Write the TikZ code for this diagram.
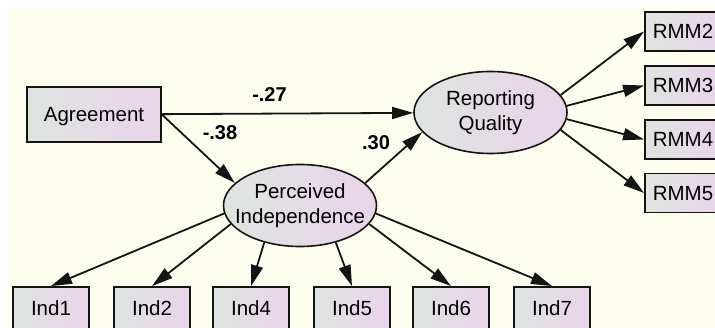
\documentclass[tikz,border=0pt]{standalone}
\usepackage{fontspec}
\setmainfont{Liberation Sans}
\usetikzlibrary{arrows.meta,shapes.geometric}
\definecolor{bg}{RGB}{253,254,238}
\definecolor{boxL}{RGB}{222,228,224}
\definecolor{boxR}{RGB}{234,212,234}
\definecolor{edge}{RGB}{20,20,20}
\tikzset{
 obs/.style={draw=edge, line width=1.8pt, left color=boxL, right color=boxR,
   minimum width=76pt, minimum height=39pt, inner sep=0pt,
   text height=14.3pt, text depth=0pt, font=\fontsize{20.5}{24}\selectfont},
 lat/.style={ellipse, draw=edge, line width=1.6pt, left color=boxL, right color=boxR,
   minimum width=153pt, minimum height=82pt, inner xsep=-11pt, inner ysep=0pt, align=center,
   font=\fontsize{20.5}{24.5}\selectfont},
 arr/.style={draw=edge, line width=1.8pt, -{Triangle[length=21pt,width=12pt]}},
 coef/.style={font=\bfseries\fontsize{20}{24}\selectfont, inner sep=0pt}
}
\begin{document}
\begin{tikzpicture}[x=1pt,y=-1pt]
\useasboundingbox (0,0) rectangle (715,328);
\clip (0,0) rectangle (715,328);
\fill[white] (0,0) rectangle (715,328);
\fill[bg] (7,7) rectangle (715,328);
\node[obs, minimum width=134pt, minimum height=55pt] (A) at (94,114.5) {Agreement};
\node[lat] (RQ) at (490.5,112.5) {Reporting\\Quality};
\node[lat] (PI) at (300,205.5) {Perceived\\Independence};
\foreach \n/\y in {2/31.5,3/85.5,4/139.5,5/193}
  \node[obs] (R\n) at (683,\y) {RMM\n};
\foreach \n/\x in {1/51,2/152,4/251,5/352,6/451,7/552}
  \node[obs, minimum height=43pt] (I\n) at (\x,308.5) {Ind\n};
\draw[arr] (A) -- (RQ);
\draw[arr] (A.east) -- (PI.161);
\draw[arr] (PI.19) -- (RQ.196);
\draw[arr] (RQ.14) -- (R2.west);
\draw[arr] (RQ.5) -- (R3.west);
\draw[arr] (RQ.-5) -- (R4.west);
\draw[arr] (RQ.-14) -- (R5.west);
\draw[arr] (PI.186) -- (I1.north);
\draw[arr] (PI.195) -- (I2.north);
\draw[arr] (PI.226) -- (I4.north);
\draw[arr] (PI.314) -- (I5.north);
\draw[arr] (PI.345) -- (I6.north);
\draw[arr] (PI.354) -- (I7.north);
\node[coef] (l1) at (269.5,95) {-.27};
\node[coef] (l2) at (220,133) {-.38};
\node[coef] (l3) at (376,143) {.30};
\end{tikzpicture}
\end{document}
